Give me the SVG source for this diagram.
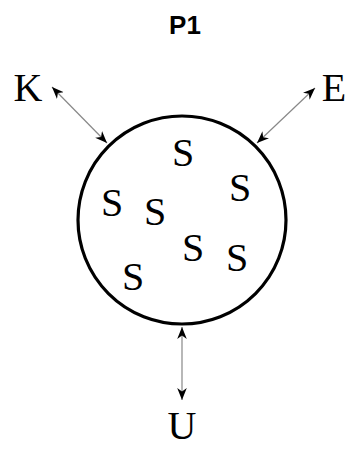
<svg xmlns="http://www.w3.org/2000/svg" width="351" height="449" viewBox="0 0 351 449">
<style>
.lbl{font-family:"Liberation Serif","Times New Roman",serif;font-size:40px;fill:#000;text-anchor:middle}
.ttl{font-family:"Liberation Sans",Arial,sans-serif;font-size:26px;font-weight:bold;fill:#000;text-anchor:middle}
.conn{stroke:#888;stroke-width:1.2;fill:none;marker-start:url(#ah);marker-end:url(#ah)}
</style>
<defs>
<marker id="ah" viewBox="0 0 10 10" refX="10" refY="5" markerWidth="12" markerHeight="12" markerUnits="userSpaceOnUse" orient="auto-start-reverse">
<path d="M0,1 L10,5 L0,9 L3,5 Z" fill="#000"/>
</marker>
</defs>
<rect width="351" height="449" fill="#fff"/>
<text class="ttl" x="185" y="34">P1</text>
<g id="P1">
<circle cx="182" cy="220" r="104" fill="none" stroke="#000" stroke-width="3.2"/>
<text class="lbl" x="183" y="166">S</text>
<text class="lbl" x="240" y="201">S</text>
<text class="lbl" x="112" y="216">S</text>
<text class="lbl" x="155" y="225">S</text>
<text class="lbl" x="193" y="261">S</text>
<text class="lbl" x="237" y="271">S</text>
<text class="lbl" x="133" y="290">S</text>
</g>
<g id="K"><text class="lbl" x="28" y="101">K</text></g>
<g id="E"><text class="lbl" x="334" y="101">E</text></g>
<g id="U"><text class="lbl" x="182" y="439">U</text></g>
<g id="connectors">
<line class="conn" x1="52" y1="87" x2="107" y2="143"/>
<line class="conn" x1="315" y1="88" x2="257" y2="143"/>
<line class="conn" x1="182" y1="327" x2="182" y2="400"/>
</g>
</svg>
